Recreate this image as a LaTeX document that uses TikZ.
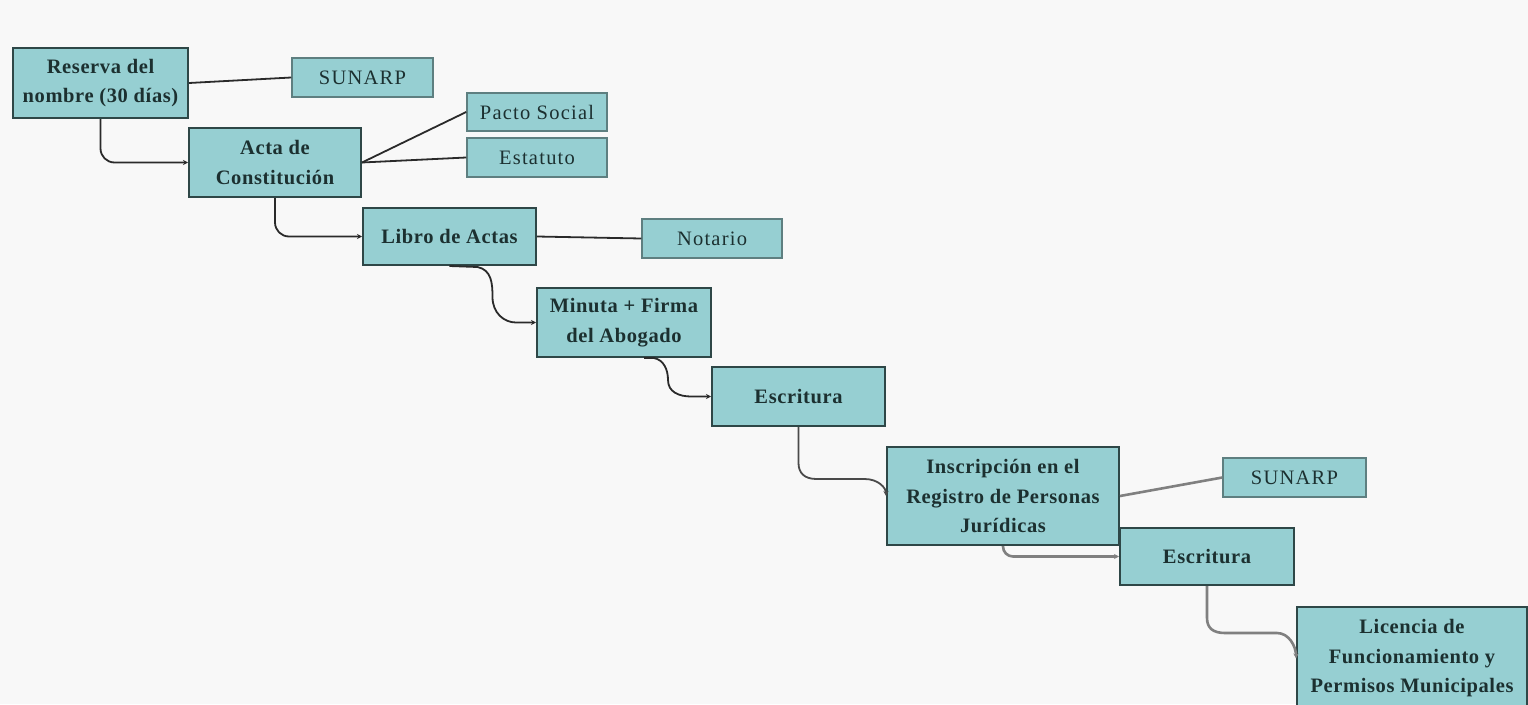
\documentclass[tikz,border=0pt]{standalone}
\usepackage{fontspec}
\setmainfont{Liberation Serif}
\usetikzlibrary{arrows.meta,calc}
\definecolor{bgpaper}{HTML}{F8F8F8}
\definecolor{boxfill}{HTML}{96CFD2}
\definecolor{boxline}{HTML}{2E4747}
\definecolor{sideline}{HTML}{5E7F80}
\definecolor{inktext}{HTML}{1C3030}
\definecolor{darkwire}{HTML}{2A2A2A}
\definecolor{greywire}{HTML}{808080}
\tikzset{
  stage/.style={draw=boxline, line width=2pt, fill=boxfill, align=center,
    text=inktext, inner sep=0pt,
    font=\fontsize{20.5}{29.5}\selectfont\bfseries\addfontfeatures{LetterSpace=3}},
  tag/.style={draw=sideline, line width=1.5pt, fill=boxfill, align=center,
    text=inktext, inner sep=0pt,
    font=\fontsize{20.5}{26}\selectfont\addfontfeatures{LetterSpace=6}},
  wire/.style={draw=darkwire, line width=1.8pt},
  flow/.style={wire, -{Stealth[length=5pt,width=5pt]}},
  greyflow/.style={draw=greywire, line width=2.6pt, -{Stealth[length=5pt,width=5pt]}},
  greywire/.style={draw=greywire, line width=2.6pt},
}
\begin{document}
\begin{tikzpicture}[x=1pt,y=-1pt]
% page
\fill[bgpaper] (0,0) rectangle (1528,704);
\useasboundingbox (0,0) rectangle (1528,704);

% process steps
\node[stage, minimum width=175pt, minimum height=70pt] (res) at (100.5,83) {Reserva del\\nombre (30 días)};
\node[stage, minimum width=172pt, minimum height=69pt] (acta) at (275,162.5) {Acta de\\Constitución};
\node[stage, minimum width=173pt, minimum height=57pt] (libro) at (449.5,236.5) {Libro de Actas};
\node[stage, minimum width=174pt, minimum height=69pt] (minuta) at (624,322.5) {Minuta + Firma\\del Abogado};
\node[stage, minimum width=173pt, minimum height=59pt] (escr1) at (798.5,396.5) {Escritura};
\node[stage, minimum width=232pt, minimum height=98pt] (insc) at (1003,496) {Inscripción en el\\Registro de Personas\\Jurídicas};
\node[stage, minimum width=174pt, minimum height=57pt] (escr2) at (1207,556.5) {Escritura};
\node[stage, minimum width=230pt, minimum height=103pt] (lic) at (1412,658.5) {Licencia de\\Funcionamiento y\\Permisos Municipales};

% side entities
\node[tag, minimum width=141pt, minimum height=39pt] (sun1) at (362.5,77.5) {SUNARP};
\node[tag, minimum width=140pt, minimum height=38pt] (pacto) at (537,112) {Pacto Social};
\node[tag, minimum width=140pt, minimum height=39pt] (estat) at (537,157.5) {Estatuto};
\node[tag, minimum width=140pt, minimum height=39pt] (notario) at (712,238.5) {Notario};
\node[tag, minimum width=143pt, minimum height=39pt] (sun2) at (1294.5,477.5) {SUNARP};

% links to side entities
\draw[wire] (res.east) -- (sun1.west);
\draw[wire] (acta.east) -- (pacto.west);
\draw[wire] (acta.east) -- (estat.west);
\draw[wire] (libro.east) -- (notario.west);
\draw[greywire] (insc.east) -- (sun2.west);

% flow between steps
\draw[flow, rounded corners=14pt] (res.south) |- (acta.west);
\draw[flow, rounded corners=14pt] (acta.south) |- (libro.west);
\draw[flow] (libro.south) -- ++(28,1)
  .. controls +(14,3) and +(0,-14) .. ++(15,30)
  .. controls +(0,16) and +(-12,0) .. ($(minuta.west)+(-20,0)$) -- (minuta.west);
\draw[flow] ($(minuta.south)+(20,0)$) -- ++(10,0)
  .. controls +(10,2) and +(0,-10) .. ++(14,22)
  .. controls +(0,12) and +(-12,0) .. ($(escr1.west)+(-20,0)$) -- (escr1.west);
\draw[flow, draw=darkwire!85] (escr1.south) -- ++(0,36)
  .. controls +(0,10) and +(-12,0) .. ++(18,16) -- ++(48,0)
  .. controls +(14,0) and +(0,-8) .. (insc.west);
\draw[greyflow, rounded corners=10pt] (insc.south) |- (escr2.west);
\draw[greyflow] (escr2.south) -- ++(0,32)
  .. controls +(0,10) and +(-12,0) .. ++(18,15) -- ++(52,0)
  .. controls +(12,0) and +(0,-12) .. (lic.west);
\end{tikzpicture}
\end{document}
